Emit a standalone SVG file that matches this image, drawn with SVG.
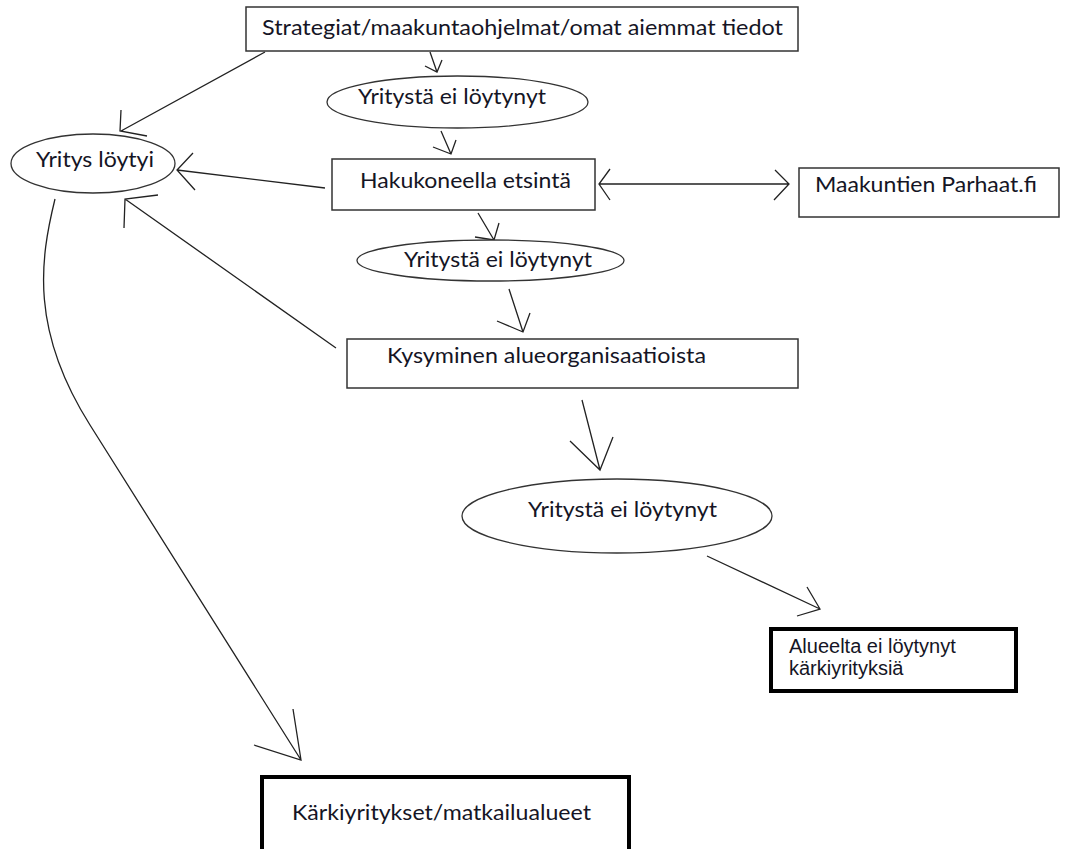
<svg xmlns="http://www.w3.org/2000/svg" width="1072" height="849" viewBox="0 0 1072 849">
<style>
.box{fill:#fff;stroke:#333;stroke-width:1.5}
.thick{fill:#fff;stroke:#000;stroke-width:4}
.ell{fill:#fff;stroke:#333;stroke-width:1.3}
.t{font-family:Lato,"Open Sans","Liberation Sans",sans-serif;font-size:22px;fill:#151525}
.a{font-family:"Liberation Sans",Arial,sans-serif;font-size:20px;fill:#151525}
.c{fill:none;stroke:#222;stroke-width:1.3}
</style>
<rect width="1072" height="849" fill="#fff"/>
<g id="connectors">
<path class="c" d="M265,52 L121,131 M121,110 L120,131 L147,136"/>
<path class="c" d="M430,52 L437,72 M425,66 L437,72 L442,60"/>
<path class="c" d="M441,131 L451,154 M433,147 L451,154 L456,140"/>
<path class="c" d="M325,188 L177,170 M193,153 L177,170 L195,190"/>
<path class="c" d="M599,184 L789,184 M610,169 L599,184 L610,200 M775,170 L789,184 L774,200"/>
<path class="c" d="M478,213 L494,240 M475,237 L494,240 L499,223"/>
<path class="c" d="M336,348 L125,199 M158,195 L125,199 L124,228"/>
<path class="c" d="M509,289 L523,332 M497,321 L523,332 L530,313"/>
<path class="c" d="M582,400 L600,470 M570,441 L600,470 L613,437"/>
<path class="c" d="M707,556 L820,609 M807,587 L820,609 L797,616"/>
<path class="c" d="M55,199 C40,260 30,330 90,425 L301,760 M293,709 L301,760 L254,745"/>
</g>
<g id="n-strategiat"><rect class="box" x="246" y="7" width="552" height="44"/><text class="t" x="262" y="35" textLength="521" lengthAdjust="spacingAndGlyphs">Strategiat/maakuntaohjelmat/omat aiemmat tiedot</text></g>
<g id="n-ei1"><ellipse class="ell" cx="457.5" cy="102" rx="130.5" ry="26"/><text class="t" x="358" y="104" textLength="188" lengthAdjust="spacingAndGlyphs">Yritystä ei löytynyt</text></g>
<g id="n-loytyi"><ellipse class="ell" cx="93" cy="163.5" rx="82" ry="29.5"/><text class="t" x="36" y="167" textLength="118" lengthAdjust="spacingAndGlyphs">Yritys löytyi</text></g>
<g id="n-haku"><rect class="box" x="332" y="159" width="263" height="51"/><text class="t" x="360" y="188" textLength="211" lengthAdjust="spacingAndGlyphs">Hakukoneella etsintä</text></g>
<g id="n-parhaat"><rect class="box" x="799" y="168" width="260" height="49"/><text class="t" x="815" y="192" textLength="222" lengthAdjust="spacingAndGlyphs">Maakuntien Parhaat.fi</text></g>
<g id="n-ei2"><ellipse class="ell" cx="490.5" cy="260.5" rx="133.5" ry="20.5"/><text class="t" x="404" y="267" textLength="188" lengthAdjust="spacingAndGlyphs">Yritystä ei löytynyt</text></g>
<g id="n-kysyminen"><rect class="box" x="347" y="339" width="451" height="49"/><text class="t" x="387" y="363" textLength="319" lengthAdjust="spacingAndGlyphs">Kysyminen alueorganisaatioista</text></g>
<g id="n-ei3"><ellipse class="ell" cx="617" cy="516" rx="155" ry="37"/><text class="t" x="528" y="517" textLength="189" lengthAdjust="spacingAndGlyphs">Yritystä ei löytynyt</text></g>
<g id="n-alueelta"><rect class="thick" x="771" y="629" width="245" height="62"/><text class="a" x="789" y="653">Alueelta ei löytynyt</text><text class="a" x="789" y="675">kärkiyrityksiä</text></g>
<g id="n-karki"><rect class="thick" x="262" y="777" width="367" height="90"/><text class="t" x="292" y="820" textLength="299" lengthAdjust="spacingAndGlyphs">Kärkiyritykset/matkailualueet</text></g>
</svg>
